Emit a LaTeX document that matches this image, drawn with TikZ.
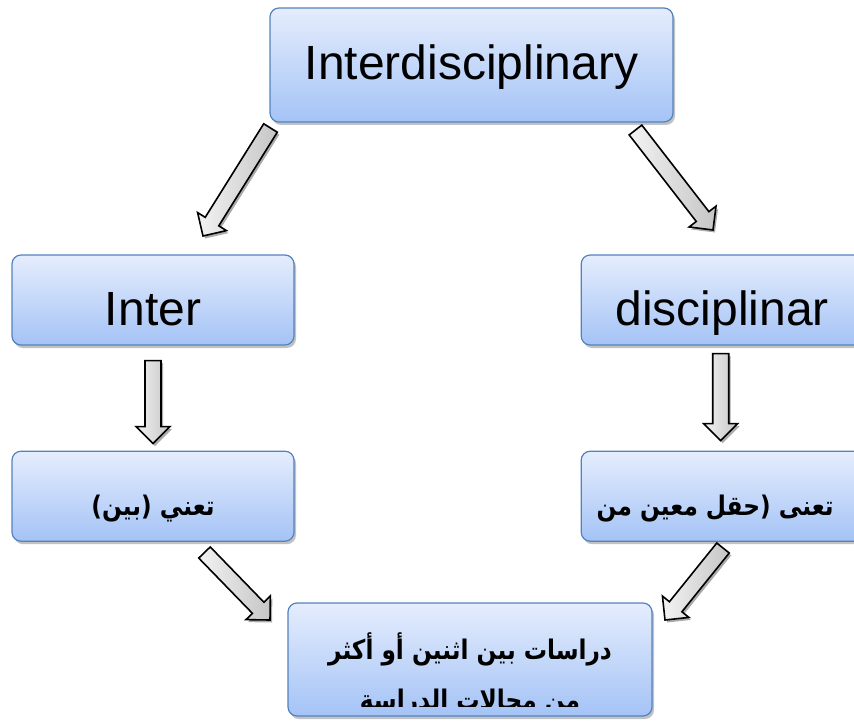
\documentclass[tikz,border=0pt]{standalone}
\usepackage{fontspec}
\setmainfont{Liberation Sans}
\newfontfamily\arabicfont[Script=Arabic, FakeStretch=0.86]{DejaVu Sans}
\TeXXeTstate=1
\usepackage{tikz}
\usetikzlibrary{positioning,calc,shadows}

\definecolor{boxtop}{RGB}{229,237,253}
\definecolor{boxbot}{RGB}{164,195,246}
\definecolor{boxline}{RGB}{84,130,190}

\newcommand\blockarrow[2]{%
  \coordinate (bh) at ($(#2)!17pt!(#1)$);
  \draw[bigarrow] ($(#1)!8pt!90:(#2)$) -- ($(bh)!8pt!-90:(#1)$)
    -- ($(bh)!17pt!-90:(#1)$) -- (#2) -- ($(bh)!17pt!90:(#1)$)
    -- ($(bh)!8pt!90:(#1)$) -- ($(#1)!8pt!-90:(#2)$) -- cycle;}

\begin{document}
\begin{tikzpicture}[
  x=1pt, y=-1pt,
  box/.style={rectangle, draw=boxline, line width=1.2pt, rounded corners=9pt,
              top color=boxtop, bottom color=boxbot, align=center,
              inner sep=0pt, minimum width=282pt, minimum height=90pt,
              drop shadow={shadow xshift=2pt, shadow yshift=-3pt,
                           fill=black!40, opacity=.6}},
  latin/.style={font=\fontsize{48}{58}\selectfont, text depth=10pt},
  arab/.style={font=\fontsize{27}{50}\selectfont\arabicfont\bfseries,
               align=center},
  bigarrow/.style={draw=black, line width=1.6pt, line join=miter,
                   left color=gray!10, right color=gray!45,
                   drop shadow={shadow xshift=2pt, shadow yshift=-2.5pt,
                                fill=black!55, opacity=.6}},
]
  \path[use as bounding box] (0,0) rectangle (854,722);
  \clip (0,0) rectangle (854,722);

  \node[box, latin, text height=40pt, minimum width=403pt, minimum height=114pt]
    (whole) at (471.5,65) {Interdisciplinary};
  \node[box, latin, text height=60pt] (inter) at (153,300) {Inter};
  \node[box, latin, text height=60pt, right=286pt of inter] (disc) {disciplinar};

  \node[box, arab, text height=45pt, below=105pt of inter] (interAr)
    {\beginR تعني (بين)\endR};
  \node[box, arab, text height=45pt, below=105pt of disc] (discAr)
    {\beginR تعنى (حقل معين من\endR\hspace*{14pt}};

  \node[box, minimum width=364pt, minimum height=113pt] (studies) at (470,659.5) {};
  \begin{scope}
    \clip ([yshift=10pt]studies.south west) rectangle (studies.north east);
    \node[arab, anchor=north] (studiesTxt) at ($(studies.north)+(0,27)$)
      {\beginR دراسات بين اثنين أو أكثر\endR\\
       \beginR من مجالات الدراسة\endR};
  \end{scope}

  \coordinate (a1s) at (270.5,128);  \coordinate (a1e) at (203,236);
  \coordinate (a2s) at (635.5,130);  \coordinate (a2e) at (713,230);
  \coordinate (a3s) at ([yshift=-15pt]inter.south);
  \coordinate (a3e) at ([yshift=7pt]interAr.north);
  \coordinate (a4s) at ([xshift=-1.5pt, yshift=-8pt]disc.south);
  \coordinate (a4e) at ([xshift=-1.5pt, yshift=10pt]discAr.north);
  \coordinate (a5s) at (204.5,552.5); \coordinate (a5e) at (270,620);
  \coordinate (a6s) at (723,548);     \coordinate (a6e) at (665,620);

  \blockarrow{a1s}{a1e}
  \blockarrow{a2s}{a2e}
  \blockarrow{a3s}{a3e}
  \blockarrow{a4s}{a4e}
  \blockarrow{a5s}{a5e}
  \blockarrow{a6s}{a6e}
\end{tikzpicture}
\end{document}
